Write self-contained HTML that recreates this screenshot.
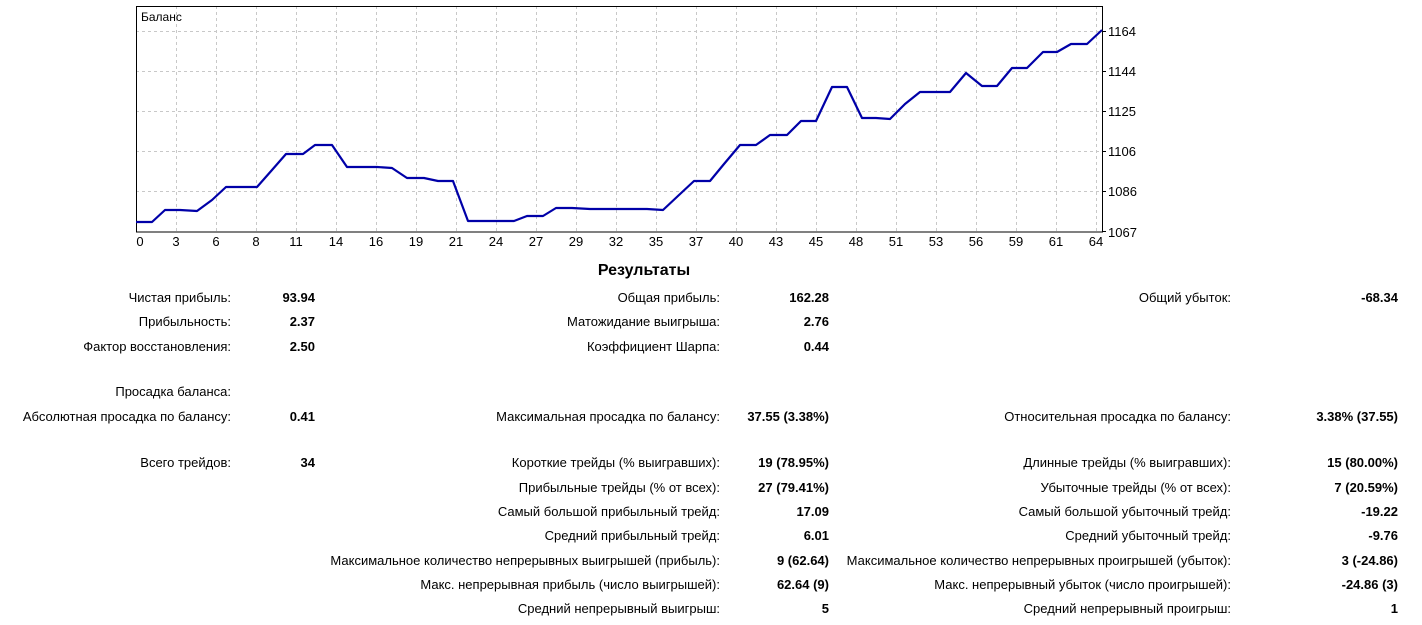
<!DOCTYPE html>
<html><head><meta charset="utf-8"><style>
body{margin:0;width:1422px;height:625px;background:#fff;position:relative;overflow:hidden;font-family:"Liberation Sans","DejaVu Sans",sans-serif;font-size:13px;color:#000}
.l,.v{position:absolute;white-space:nowrap;text-align:right;line-height:15px}
.v{font-weight:bold}
svg{position:absolute;left:0;top:0}
</style></head><body>
<svg width="1422" height="250" font-family="Liberation Sans, DejaVu Sans, sans-serif" font-size="13">
<g stroke="#c8c8c8" stroke-dasharray="3,3" stroke-width="1">
<line x1="136" y1="31.5" x2="1102" y2="31.5"/><line x1="136" y1="71.5" x2="1102" y2="71.5"/><line x1="136" y1="111.5" x2="1102" y2="111.5"/><line x1="136" y1="151.5" x2="1102" y2="151.5"/><line x1="136" y1="191.5" x2="1102" y2="191.5"/>
<line x1="176.5" y1="6" x2="176.5" y2="232"/><line x1="216.5" y1="6" x2="216.5" y2="232"/><line x1="256.5" y1="6" x2="256.5" y2="232"/><line x1="296.5" y1="6" x2="296.5" y2="232"/><line x1="336.5" y1="6" x2="336.5" y2="232"/><line x1="376.5" y1="6" x2="376.5" y2="232"/><line x1="416.5" y1="6" x2="416.5" y2="232"/><line x1="456.5" y1="6" x2="456.5" y2="232"/><line x1="496.5" y1="6" x2="496.5" y2="232"/><line x1="536.5" y1="6" x2="536.5" y2="232"/><line x1="576.5" y1="6" x2="576.5" y2="232"/><line x1="616.5" y1="6" x2="616.5" y2="232"/><line x1="656.5" y1="6" x2="656.5" y2="232"/><line x1="696.5" y1="6" x2="696.5" y2="232"/><line x1="736.5" y1="6" x2="736.5" y2="232"/><line x1="776.5" y1="6" x2="776.5" y2="232"/><line x1="816.5" y1="6" x2="816.5" y2="232"/><line x1="856.5" y1="6" x2="856.5" y2="232"/><line x1="896.5" y1="6" x2="896.5" y2="232"/><line x1="936.5" y1="6" x2="936.5" y2="232"/><line x1="976.5" y1="6" x2="976.5" y2="232"/><line x1="1016.5" y1="6" x2="1016.5" y2="232"/><line x1="1056.5" y1="6" x2="1056.5" y2="232"/><line x1="1096.5" y1="6" x2="1096.5" y2="232"/>
</g>
<rect x="136.5" y="6.5" width="966" height="225.5" fill="none" stroke="#000"/>
<g stroke="#000">
<line x1="1102" y1="31.5" x2="1106" y2="31.5"/><line x1="1102" y1="71.5" x2="1106" y2="71.5"/><line x1="1102" y1="111.5" x2="1106" y2="111.5"/><line x1="1102" y1="151.5" x2="1106" y2="151.5"/><line x1="1102" y1="191.5" x2="1106" y2="191.5"/><line x1="1102" y1="231.5" x2="1106" y2="231.5"/>
</g>
<polyline fill="none" stroke="#0000a8" stroke-width="2.2" stroke-linejoin="round" points="136,222 152,222 165,210 180,210 197,211 212,200 226,187 257,187 272,170 286,154 303,154 315,145 332,145 347,167 377,167 392,168 407,178 424,178 438,181 453,181 468,221 514,221 527,216 543,216 556,208 572,208 590,209 617,209 647,209 663,210 679,195 694,181 710,181 724,164 740,145 756,145 770,135 787,135 801,121 816,121 832,87 847,87 862,118 876,118 890,119 905,104 920,92 950,92 966,73 982,86 997,86 1012,68 1027,68 1043,52 1057,52 1071,44 1087,44 1102,30"/>
<text x="141" y="21" font-size="12">Баланс</text>
<g>
<text x="1108" y="36">1164</text><text x="1108" y="76">1144</text><text x="1108" y="116">1125</text><text x="1108" y="156">1106</text><text x="1108" y="196">1086</text><text x="1108" y="237">1067</text>
</g>
<g text-anchor="middle">
<text x="140" y="246">0</text><text x="176" y="246">3</text><text x="216" y="246">6</text><text x="256" y="246">8</text><text x="296" y="246">11</text><text x="336" y="246">14</text><text x="376" y="246">16</text><text x="416" y="246">19</text><text x="456" y="246">21</text><text x="496" y="246">24</text><text x="536" y="246">27</text><text x="576" y="246">29</text><text x="616" y="246">32</text><text x="656" y="246">35</text><text x="696" y="246">37</text><text x="736" y="246">40</text><text x="776" y="246">43</text><text x="816" y="246">45</text><text x="856" y="246">48</text><text x="896" y="246">51</text><text x="936" y="246">53</text><text x="976" y="246">56</text><text x="1016" y="246">59</text><text x="1056" y="246">61</text><text x="1096" y="246">64</text>
</g>
</svg>
<div style="position:absolute;left:544px;top:262px;width:200px;text-align:center;font-weight:bold;font-size:16px">Результаты</div>

<div class="l" style="right:1191px;top:290px">Чистая прибыль:</div><div class="v" style="right:1107px;top:290px">93.94</div>
<div class="l" style="right:702px;top:290px">Общая прибыль:</div><div class="v" style="right:593px;top:290px">162.28</div>
<div class="l" style="right:191px;top:290px">Общий убыток:</div><div class="v" style="right:24px;top:290px">-68.34</div>

<div class="l" style="right:1191px;top:314px">Прибыльность:</div><div class="v" style="right:1107px;top:314px">2.37</div>
<div class="l" style="right:702px;top:314px">Матожидание выигрыша:</div><div class="v" style="right:593px;top:314px">2.76</div>

<div class="l" style="right:1191px;top:339px">Фактор восстановления:</div><div class="v" style="right:1107px;top:339px">2.50</div>
<div class="l" style="right:702px;top:339px">Коэффициент Шарпа:</div><div class="v" style="right:593px;top:339px">0.44</div>

<div class="l" style="right:1191px;top:384px">Просадка баланса:</div>

<div class="l" style="right:1191px;top:409px">Абсолютная просадка по балансу:</div><div class="v" style="right:1107px;top:409px">0.41</div>
<div class="l" style="right:702px;top:409px">Максимальная просадка по балансу:</div><div class="v" style="right:593px;top:409px">37.55 (3.38%)</div>
<div class="l" style="right:191px;top:409px">Относительная просадка по балансу:</div><div class="v" style="right:24px;top:409px">3.38% (37.55)</div>

<div class="l" style="right:1191px;top:455px">Всего трейдов:</div><div class="v" style="right:1107px;top:455px">34</div>
<div class="l" style="right:702px;top:455px">Короткие трейды (% выигравших):</div><div class="v" style="right:593px;top:455px">19 (78.95%)</div>
<div class="l" style="right:191px;top:455px">Длинные трейды (% выигравших):</div><div class="v" style="right:24px;top:455px">15 (80.00%)</div>

<div class="l" style="right:702px;top:480px">Прибыльные трейды (% от всех):</div><div class="v" style="right:593px;top:480px">27 (79.41%)</div>
<div class="l" style="right:191px;top:480px">Убыточные трейды (% от всех):</div><div class="v" style="right:24px;top:480px">7 (20.59%)</div>

<div class="l" style="right:702px;top:504px">Самый большой прибыльный трейд:</div><div class="v" style="right:593px;top:504px">17.09</div>
<div class="l" style="right:191px;top:504px">Самый большой убыточный трейд:</div><div class="v" style="right:24px;top:504px">-19.22</div>

<div class="l" style="right:702px;top:528px">Средний прибыльный трейд:</div><div class="v" style="right:593px;top:528px">6.01</div>
<div class="l" style="right:191px;top:528px">Средний убыточный трейд:</div><div class="v" style="right:24px;top:528px">-9.76</div>

<div class="l" style="right:702px;top:553px">Максимальное количество непрерывных выигрышей (прибыль):</div><div class="v" style="right:593px;top:553px">9 (62.64)</div>
<div class="l" style="right:191px;top:553px">Максимальное количество непрерывных проигрышей (убыток):</div><div class="v" style="right:24px;top:553px">3 (-24.86)</div>

<div class="l" style="right:702px;top:577px">Макс. непрерывная прибыль (число выигрышей):</div><div class="v" style="right:593px;top:577px">62.64 (9)</div>
<div class="l" style="right:191px;top:577px">Макс. непрерывный убыток (число проигрышей):</div><div class="v" style="right:24px;top:577px">-24.86 (3)</div>

<div class="l" style="right:702px;top:601px">Средний непрерывный выигрыш:</div><div class="v" style="right:593px;top:601px">5</div>
<div class="l" style="right:191px;top:601px">Средний непрерывный проигрыш:</div><div class="v" style="right:24px;top:601px">1</div>
</body></html>
